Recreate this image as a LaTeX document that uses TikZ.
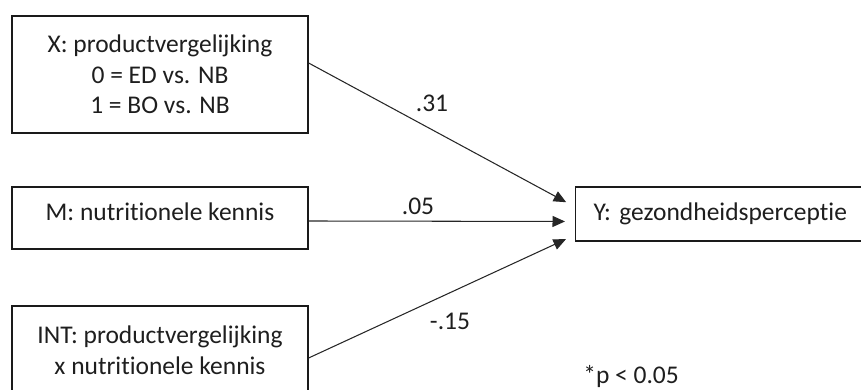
\documentclass[tikz,border=0pt]{standalone}
\usepackage{fontspec}
\setmainfont{Carlito}[Ligatures={NoCommon}]
\usepackage{tikz}
\usetikzlibrary{arrows.meta, positioning, calc}
\definecolor{boxline}{HTML}{1A1A1A}
\definecolor{pathgray}{HTML}{262626}
\definecolor{textdark}{HTML}{1E1E1E}

\begin{document}
\begin{tikzpicture}[font=\fontsize{14.5}{17.5}\selectfont,
    varbox/.style={draw=boxline, line width=0.7pt, text=textdark, align=center,
      minimum width=5.92cm, inner sep=0pt},
    pathline/.style={pathgray, line width=0.6pt, shorten >=0.2cm,
      -{Triangle[length=0.25cm, width=0.22cm]}},
    coef/.style={text=textdark}]
  \clip (0,0) rectangle (17.22,7.8);

  \node[varbox, minimum height=2.34cm] (X) at (3.2,6.31)
    {X: productvergelijking\\0 = ED vs. NB\\1 = BO vs. NB};
  \node[varbox, minimum height=1.24cm, text depth=0.25cm] (M) at (3.2,3.44)
    {M: nutritionele kennis};
  \node[varbox, minimum height=1.76cm] (INT) at (3.2,0.8)
    {INT: productvergelijking\\x nutritionele kennis};
  \node[draw=boxline, line width=0.7pt, text=textdark, anchor=west, align=left,
    minimum height=1.08cm, text width=5.9cm, inner xsep=0.36cm] (Y) at (11.5,3.52)
    {Y: gezondheidsperceptie};

  \draw[pathline] ([yshift=0.23cm]X.east) -- ([yshift=0.14cm]Y.west);
  \draw[pathline] ([yshift=-0.06cm]M.east) -- ([yshift=-0.15cm]Y.west);
  \draw[pathline] ([yshift=-0.16cm]INT.east) -- ([yshift=-0.42cm]Y.west);

  \node[coef] (bX) at (8.64,5.74) {.31};
  \node[coef] (bM) at (8.36,3.68) {.05};
  \node[coef] (bINT) at (9.0,1.38) {-.15};
  \node[coef, anchor=base west, inner sep=0pt] (sig) at (11.66,0.13) {*p < 0.05};
\end{tikzpicture}
\end{document}
